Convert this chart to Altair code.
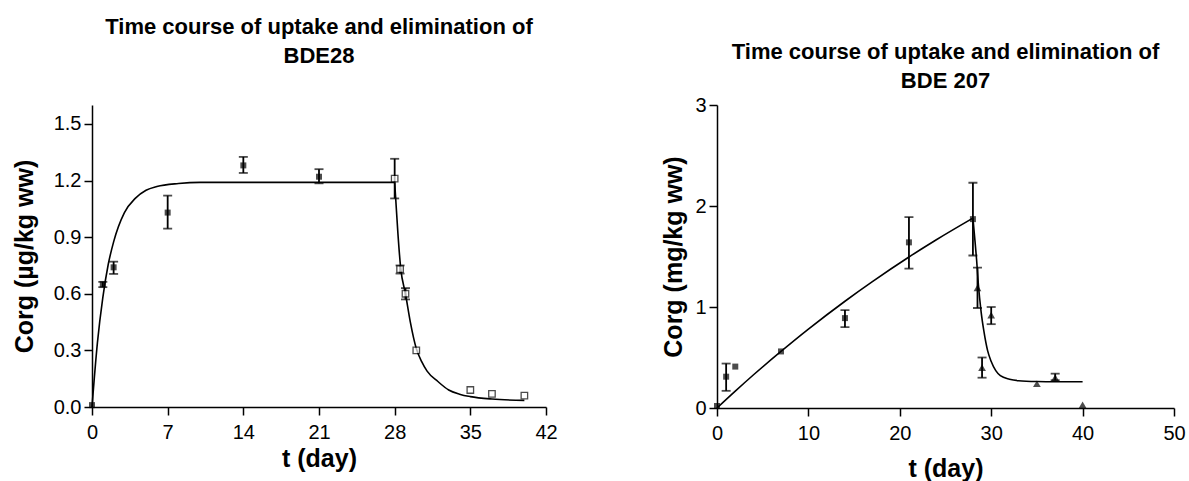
import altair as alt
import pandas as pd

FONT = "Liberation Sans"

# ---------------- Left panel: BDE28 ----------------
l_up_t = [0, 1, 2, 7, 14, 21]
l_up_y = [0.01, 0.65, 0.74, 1.03, 1.28, 1.22]
l_up_lo = [None, 0.635, 0.705, 0.945, 1.24, 1.185]
l_up_hi = [None, 0.663, 0.770, 1.120, 1.325, 1.260]

l_el_t = [28, 28.5, 29, 30, 35, 37, 40]
l_el_y = [1.21, 0.73, 0.60, 0.30, 0.09, 0.07, 0.06]
l_el_lo = [1.105, 0.707, 0.570, None, None, None, None]
l_el_hi = [1.315, 0.750, 0.630, None, None, None, None]

# fitted curve
l_fit_up_t = [0, 0.5, 1, 1.5, 2, 3, 4, 5, 6, 8, 10, 14, 21, 28]
l_fit_up_y = [0, 0.34, 0.58, 0.755, 0.875, 1.03, 1.105, 1.148, 1.168, 1.184, 1.19, 1.19, 1.19, 1.19]
l_fit_el_t = [28, 28.1, 28.3, 28.55, 29, 29.45, 30, 30.5, 31, 32, 33, 34, 35, 37, 40]
l_fit_el_y = [1.19, 1.10, 0.92, 0.74, 0.60, 0.45, 0.31, 0.24, 0.19, 0.135, 0.09, 0.068, 0.055, 0.042, 0.035]

l_xticks = [0, 7, 14, 21, 28, 35, 42]
l_yticks = [0.0, 0.3, 0.6, 0.9, 1.2, 1.5]

# ---------------- Right panel: BDE 207 ----------------
r_up_t = [0, 1, 2, 7, 14, 21, 28]
r_up_y = [0.02, 0.31, 0.41, 0.56, 0.89, 1.64, 1.87]
r_up_lo = [None, 0.17, None, None, 0.80, 1.38, 1.51]
r_up_hi = [None, 0.44, None, None, 0.97, 1.89, 2.23]

r_el_t = [28.5, 29, 30, 35, 37, 40]
r_el_y = [1.19, 0.40, 0.92, 0.24, 0.30, 0.03]
r_el_lo = [0.99, 0.30, 0.83, None, 0.275, None]
r_el_hi = [1.39, 0.50, 1.00, None, 0.34, None]

r_fit_up_t = [0, 2, 4, 7, 10, 14, 17, 21, 24, 28]
r_fit_up_y = [0, 0.167, 0.329, 0.56, 0.781, 1.057, 1.251, 1.495, 1.666, 1.88]
r_fit_el_t = [28, 28.2, 28.4, 28.6, 28.9, 29.2, 29.6, 30, 30.5, 31, 32, 33, 35, 37, 40]
r_fit_el_y = [1.88, 1.68, 1.47, 1.22, 0.95, 0.76, 0.57, 0.46, 0.37, 0.32, 0.285, 0.27, 0.262, 0.26, 0.26]

r_xticks = [0, 10, 20, 30, 40, 50]
r_yticks = [0, 1, 2, 3]


def axis(values, fmt, title, title_pad, label_pad):
    return alt.Axis(
        values=values, format=fmt, title=title, grid=False,
        labelFont=FONT, labelFontSize=20, labelColor="black", labelPadding=label_pad,
        tickColor="black", tickSize=8, tickWidth=1.5,
        domainColor="black", domainWidth=1.5,
        titleFont=FONT, titleFontSize=25, titleFontWeight="bold", titleColor="black",
        titlePadding=title_pad, labelFlush=False, labelOverlap=False,
    )


def panel(up_t, up_y, up_lo, up_hi, el_t, el_y, el_lo, el_hi,
          fu_t, fu_y, fe_t, fe_y, xdom, ydom, xticks, yticks, xfmt, yfmt,
          ytitle, title_lines, toffset, w, h, el_shape, el_open, ytp, xtp):
    x_enc = alt.X("t:Q", scale=alt.Scale(domain=xdom, nice=False, zero=False),
                  axis=axis(xticks, xfmt, "t (day)", xtp, 7))
    y_enc = alt.Y("y:Q", scale=alt.Scale(domain=ydom, nice=False),
                  axis=axis(yticks, yfmt, ytitle, ytp, 3))

    fit = pd.DataFrame({
        "t": fu_t + fe_t,
        "y": fu_y + fe_y,
        "seg": ["up"] * len(fu_t) + ["el"] * len(fe_t),
    })
    pts_up = pd.DataFrame({"t": up_t, "y": up_y})
    pts_el = pd.DataFrame({"t": el_t, "y": el_y})

    err_rows = []
    for t, lo, hi in list(zip(up_t, up_lo, up_hi)) + list(zip(el_t, el_lo, el_hi)):
        if lo is not None:
            err_rows.append({"t": t, "lo": lo, "hi": hi})
    err = pd.DataFrame(err_rows)
    caps = pd.DataFrame({
        "t": list(err["t"]) * 2,
        "y": list(err["lo"]) + list(err["hi"]),
    })

    line = alt.Chart(fit).mark_line(color="black", strokeWidth=1.6, interpolate="monotone").encode(
        x=x_enc, y=y_enc, detail="seg:N")
    rules = alt.Chart(err).mark_rule(color="black", strokeWidth=1.8).encode(
        x="t:Q", y="lo:Q", y2="hi:Q")
    cap = alt.Chart(caps).mark_tick(color="black", orient="horizontal", size=9, thickness=1.8).encode(
        x="t:Q", y="y:Q")
    m_up = alt.Chart(pts_up).mark_point(shape="square", filled=True, color="black", size=36).encode(
        x="t:Q", y="y:Q")
    if el_open:
        m_el = alt.Chart(pts_el).mark_point(shape="square", filled=True, fill="white",
                                            stroke="black", strokeWidth=1.3, size=42).encode(
            x="t:Q", y="y:Q")
    else:
        m_el = alt.Chart(pts_el).mark_point(shape=el_shape, filled=True, color="black", size=60).encode(
            x="t:Q", y="y:Q")

    return alt.layer(line, rules, cap, m_up, m_el).properties(
        width=w, height=h,
        title=alt.TitleParams(
            title_lines, font=FONT, fontSize=22, fontWeight="bold", color="black",
            anchor="middle", frame="group", offset=toffset, lineHeight=29,
        ),
    )


left = panel(l_up_t, l_up_y, l_up_lo, l_up_hi, l_el_t, l_el_y, l_el_lo, l_el_hi,
             l_fit_up_t, l_fit_up_y, l_fit_el_t, l_fit_el_y,
             [0, 42], [0, 1.6], l_xticks, l_yticks, "d", ".1f",
             "Corg (\u00b5g/kg ww)", ["Time course of uptake and elimination of", "BDE28"],
             37, 454, 302, "square", True, 16, 4)

right = panel(r_up_t, r_up_y, r_up_lo, r_up_hi, r_el_t, r_el_y, r_el_lo, r_el_hi,
              r_fit_up_t, r_fit_up_y, r_fit_el_t, r_fit_el_y,
              [0, 50], [0, 3], r_xticks, r_yticks, "d", "d",
              "Corg (mg/kg ww)", ["Time course of uptake and elimination of", "BDE 207"],
              2, 457, 303, "triangle-up", False, 8, 13)

chart = alt.hconcat(left, right, spacing=171).properties(
    bounds="flush",
    background="white",
    padding={"left": 12, "top": 16, "right": 0, "bottom": 0},
).configure_view(stroke=None)

chart.save("out.html", embed_options={"renderer": "svg", "actions": False})
